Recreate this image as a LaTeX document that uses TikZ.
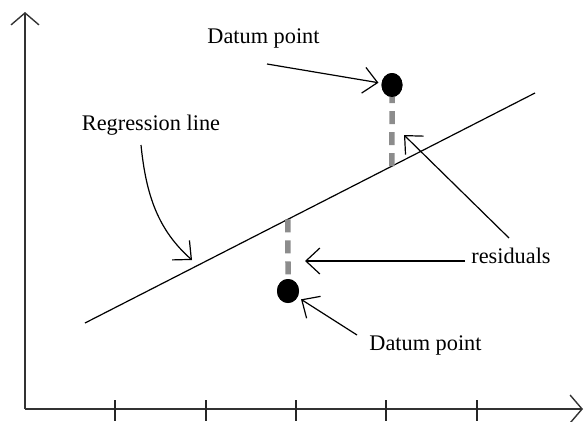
\documentclass[tikz,border=0pt]{standalone}
\usepackage{fontspec}
\setmainfont{Liberation Serif}
\usetikzlibrary{arrows.meta,calc,shapes.geometric}
\begin{document}
\begin{tikzpicture}[x=1pt,y=-1pt,
  axis/.style={line width=1.8pt,draw=black!80},
  tick/.style={line width=1.3pt,draw=black!85},
  axhead/.style={-{Straight Barb[length=12pt,width=28pt,line width=1.4pt]}},
  pointer/.style={line width=1.2pt,-{Straight Barb[length=14pt,width=26pt,line width=1.2pt]}},
  reg/.style={line width=1.2pt},
  resid/.style={line width=5.5pt,draw=black!45,dash pattern=on 13pt off 8pt},
  datum/.style={ellipse,fill=black,inner sep=0pt,minimum width=21pt,minimum height=24pt},
  lbl/.style={font=\fontsize{22.3}{26}\selectfont,inner sep=0pt,anchor=base}]
\useasboundingbox (0,0) rectangle (584,421);
% axes
\coordinate (O) at (25,409);
\coordinate (ytop) at (25,12);
\coordinate (xend) at (583,409);
\draw[axis,axhead] (O) -- (ytop);
\draw[axis,axhead] (O) -- (xend);
\foreach \x in {115,206,296,386,477}
  \draw[tick] (\x,400) -- (\x,421);
% regression line
\coordinate (ra) at (85,323);
\coordinate (rb) at (535,93);
\draw[reg] (ra) -- (rb);
\coordinate (f1) at ($(ra)!0.6822!(rb)$);
\coordinate (f2) at ($(ra)!0.4511!(rb)$);
% datum points
\node[datum] (d1) at (392,85) {};
\node[datum,minimum width=22pt] (d2) at (288,291) {};
% residuals
\draw[resid] (f1) -- (d1.center);
\draw[resid] (f2) -- (d2.center);
\node[datum] at (d1) {};
\node[datum,minimum width=22pt] at (d2) {};
% labels
\node[lbl] (ldt) at (263.5,43) {Datum point};
\node[lbl] (lreg) at (151,130) {Regression line};
\node[lbl] (lres) at (511,263) {residuals};
\node[lbl] (ldb) at (425.5,350) {Datum point};
% pointers
\coordinate (p1) at (267,64);
\draw[pointer,shorten >=3pt] (p1) -- (d1);
\coordinate (p2) at (141,145);
\coordinate (p2t) at (192,260);
\draw[pointer] (p2) .. controls (146,195) and (158,230) .. (p2t);
\coordinate (p3) at (465,261);
\coordinate (p3t) at (305,261);
\draw[pointer] (p3) -- (p3t);
\coordinate (p4) at (509,238);
\coordinate (p4t) at (404,135);
\draw[pointer] (p4) -- (p4t);
\coordinate (p5) at (357,335);
\draw[pointer,shorten >=4pt] (p5) -- (d2);
\end{tikzpicture}
\end{document}
